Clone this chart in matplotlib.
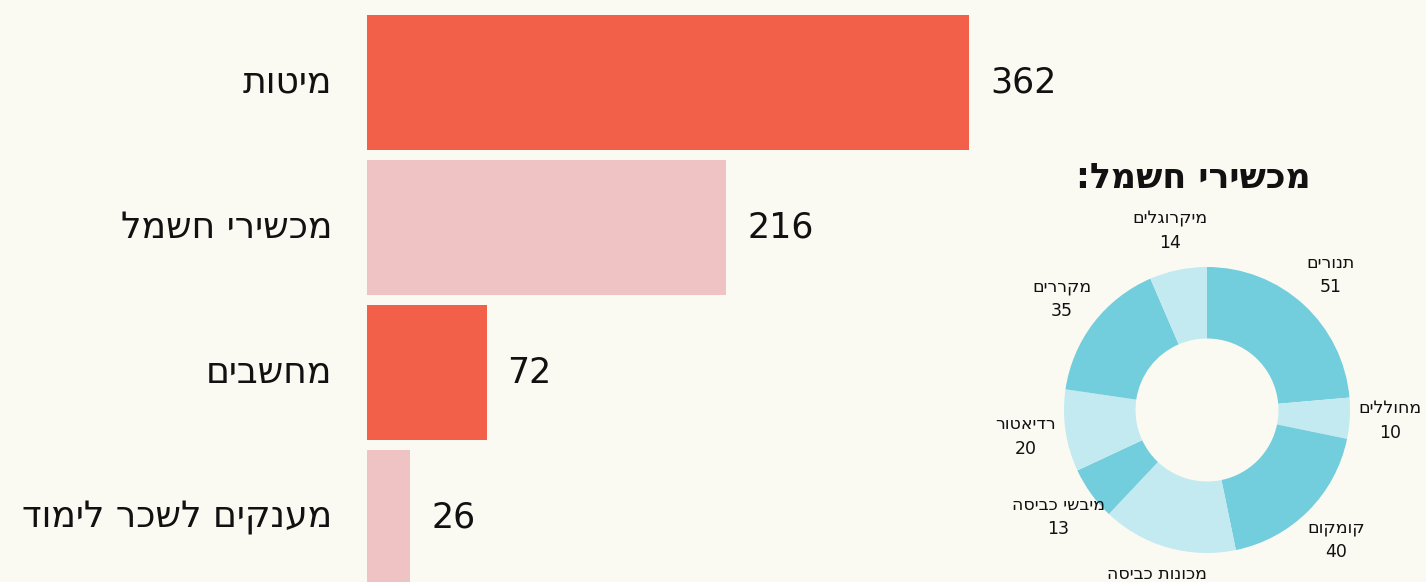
import numpy as np
import matplotlib
matplotlib.use("Agg")
from matplotlib import pyplot as plt

plt.rcParams['font.family'] = ['DejaVu Sans']

# bar chart data (logical Hebrew order)
categories = ["מיטות", "מכשירי חשמל", "מחשבים", "מענקים לשכר לימוד"]
counts = [362, 216, 72, 26]
bar_colors = ["#f2604a", "#efc2c4", "#f2604a", "#efc2c4"]

# donut data: electrical appliances, clockwise from 12 o'clock
appliances = ["תנורים", "מחוללים", "קומקום", "מכונות כביסה",
              "מיבשי כביסה", "רדיאטור", "מקררים", "מיקרוגלים"]
appliance_counts = [51, 10, 40, 33, 13, 20, 35, 14]
donut_colors = ["#72cddc", "#c2eaf0"] * 4

title = "מכשירי חשמל:"

bg = "#faf9f2"


def rtl(s):
    # matplotlib has no bidi support, flip Hebrew for display
    return s[::-1]


W, H = 1426, 582
fig = plt.figure(figsize=(W / 100, H / 100), dpi=100, facecolor=bg)

# ---- bars ----
px_per_unit = 1.663
ax = fig.add_axes([367 / W, 0, 733 / W, 1])
ax.set_facecolor(bg)
y = np.arange(len(categories))
ax.barh(y, counts, height=0.93, color=bar_colors)
ax.set_xlim(0, 733 / px_per_unit)
top = -82.5 / 145
ax.set_ylim(top + H / 145, top)
for i, (c, v) in enumerate(zip(categories, counts)):
    ax.annotate(str(v), (v, i), xytext=(15, 0), textcoords="offset points",
                ha="left", va="center", fontsize=25, color="#111111")
    ax.annotate(rtl(c), (0, i), xytext=(-25, 0), textcoords="offset points",
                ha="right", va="center", fontsize=26, color="#111111",
                annotation_clip=False)
ax.axis("off")

# ---- donut ----
R = 143
span = 3.2 * R
cx, cy = 1207, 410
pax = fig.add_axes([(cx - span / 2) / W, (H - cy - span / 2) / H, span / W, span / H])
pax.set_facecolor("none")
wedges, texts = pax.pie(appliance_counts, colors=donut_colors, startangle=90,
                        counterclock=False,
                        labels=[rtl(a) + "\n" + str(n) for a, n in zip(appliances, appliance_counts)],
                        labeldistance=1.28, wedgeprops=dict(width=0.5, linewidth=0),
                        textprops=dict(fontsize=12.5, color="#111111", linespacing=1.45))
for t in texts:
    t.set_ha("center")
    t.set_va("center")
pax.set_xlim(-1.6, 1.6)
pax.set_ylim(-1.6, 1.6)
pax.set_aspect("equal")
pax.axis("off")

fig.text(1193 / W, 1 - 178 / H, rtl(title), ha="center", va="center",
         fontsize=25, fontweight="bold", color="#111111")

fig.savefig("out.png", dpi=100, facecolor=bg)
